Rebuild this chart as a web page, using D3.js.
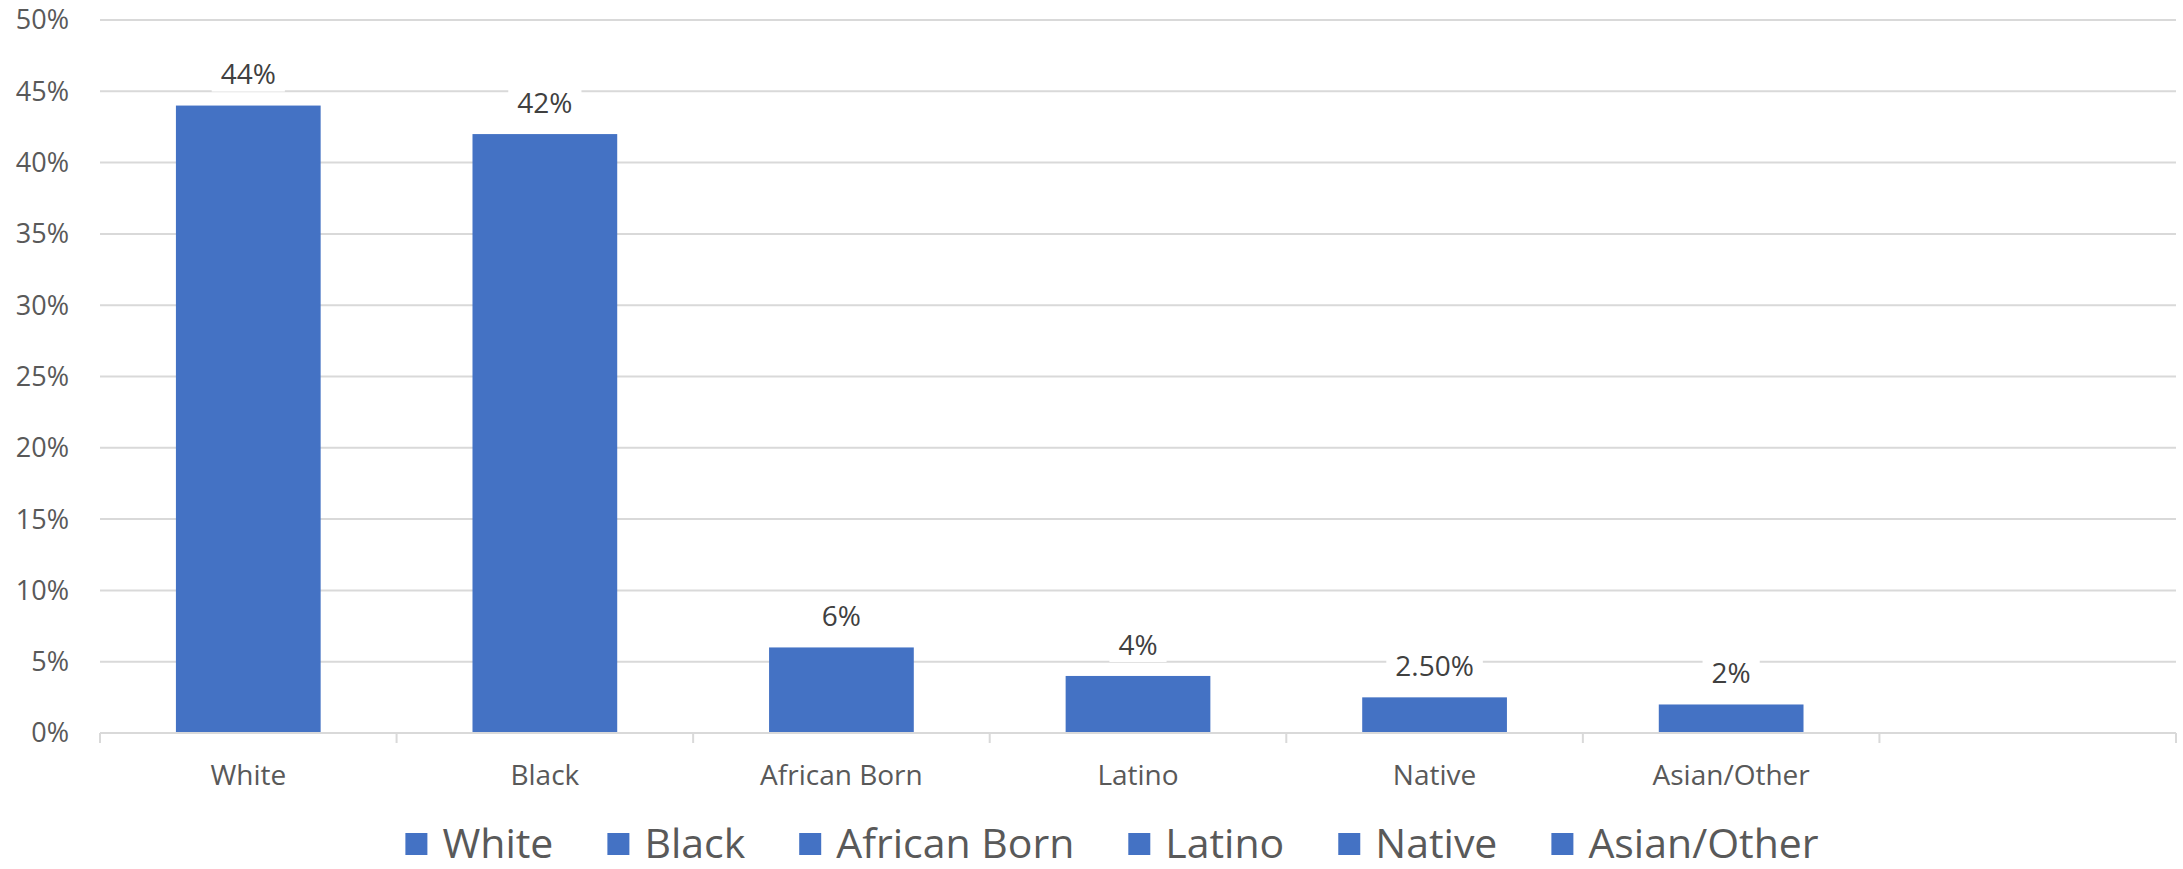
<!DOCTYPE html>
<html>
<head>
<meta charset="utf-8">
<script src="https://cdn.jsdelivr.net/npm/d3@7"></script>
<style>
  html, body { margin: 0; padding: 0; background: #fff; }
  #chart { width: 2183px; height: 869px; }
</style>
</head>
<body>
<div id="chart"></div>
<script>
// data
const categories = ["White", "Black", "African Born", "Latino", "Native", "Asian/Other", ""];
const values = [44, 42, 6, 4, 2.5, 2, null];
const valueLabels = ["44%", "42%", "6%", "4%", "2.50%", "2%", ""];
const yTicks = [0, 5, 10, 15, 20, 25, 30, 35, 40, 45, 50];
const legendItems = ["White", "Black", "African Born", "Latino", "Native", "Asian/Other"];

const width = 2183, height = 869;
const plot = { left: 100, right: 2176, top: 20, bottom: 733 };
const barColor = "#4472C4";
const font = "'Open Sans', 'Segoe UI', sans-serif";

const svg = d3.select("#chart").append("svg")
    .attr("width", width)
    .attr("height", height)
    .style("font-family", font);

const x = d3.scaleBand()
    .domain(categories)
    .range([plot.left, plot.right])
    .paddingInner(0.512)
    .paddingOuter(0.256);

const step = (plot.right - plot.left) / categories.length;

const y = d3.scaleLinear()
    .domain([0, 50])
    .range([plot.bottom, plot.top]);

// gridlines
svg.append("g")
    .selectAll("line")
    .data(yTicks.filter(d => d > 0))
    .join("line")
    .attr("x1", plot.left)
    .attr("x2", plot.right)
    .attr("y1", d => y(d))
    .attr("y2", d => y(d))
    .attr("stroke", "#D9D9D9")
    .attr("stroke-width", 2);

// y axis labels
svg.append("g")
    .selectAll("text")
    .data(yTicks)
    .join("text")
    .attr("x", 69)
    .attr("y", d => y(d))
    .attr("dy", "0.35em")
    .attr("text-anchor", "end")
    .attr("fill", "#595959")
    .style("font-size", "27px")
    .text(d => d + "%");

// bars
svg.append("g")
    .selectAll("rect")
    .data(categories.map((c, i) => ({ c, v: values[i] })).filter(d => d.v != null))
    .join("rect")
    .attr("x", d => x(d.c))
    .attr("y", d => y(d.v))
    .attr("width", x.bandwidth())
    .attr("height", d => y(0) - y(d.v))
    .attr("fill", barColor);

// x axis line + tick marks at band boundaries
const xAxis = svg.append("g");
xAxis.append("line")
    .attr("x1", plot.left)
    .attr("x2", plot.right)
    .attr("y1", y(0))
    .attr("y2", y(0))
    .attr("stroke", "#D9D9D9")
    .attr("stroke-width", 2);
xAxis.selectAll("line.tick")
    .data(d3.range(categories.length + 1))
    .join("line")
    .attr("class", "tick")
    .attr("x1", i => plot.left + i * step)
    .attr("x2", i => plot.left + i * step)
    .attr("y1", y(0))
    .attr("y2", y(0) + 10)
    .attr("stroke", "#D9D9D9")
    .attr("stroke-width", 2);
xAxis.selectAll("text")
    .data(categories)
    .join("text")
    .attr("x", d => x(d) + x.bandwidth() / 2)
    .attr("y", 775)
    .attr("dy", "0.35em")
    .attr("text-anchor", "middle")
    .attr("fill", "#595959")
    .style("font-size", "28px")
    .text(d => d);

// data labels with white box
const labels = svg.append("g")
    .selectAll("g")
    .data(categories.map((c, i) => ({ c, v: values[i], t: valueLabels[i] })).filter(d => d.v != null))
    .join("g")
    .attr("transform", d => `translate(${x(d.c) + x.bandwidth() / 2}, ${y(d.v) - 31})`);

labels.append("text")
    .attr("text-anchor", "middle")
    .attr("dy", "0.35em")
    .attr("fill", "#404040")
    .style("font-size", "28px")
    .text(d => d.t)
    .each(function () {
        const bb = this.getBBox();
        d3.select(this.parentNode).insert("rect", "text")
            .attr("x", bb.x - 9)
            .attr("y", -17)
            .attr("width", bb.width + 18)
            .attr("height", 34)
            .attr("fill", "#fff");
    });

// legend
const legend = svg.append("g");
const legendFontSize = 41;
const sq = 22, sqGap = 15, itemGap = 54;
const items = legend.selectAll("g")
    .data(legendItems)
    .join("g");
items.append("rect")
    .attr("width", sq)
    .attr("height", sq)
    .attr("y", -sq / 2)
    .attr("fill", barColor);
items.append("text")
    .attr("x", sq + sqGap)
    .attr("dy", "0.35em")
    .attr("fill", "#595959")
    .style("font-size", legendFontSize + "px")
    .text(d => d);

let cursor = 0;
items.each(function () {
    const w = this.querySelector("text").getComputedTextLength();
    d3.select(this).attr("transform", `translate(${cursor}, 0)`);
    cursor += sq + sqGap + w + itemGap;
});
const legendWidth = cursor - itemGap;
legend.attr("transform", `translate(${1112 - legendWidth / 2}, 844)`);
</script>
</body>
</html>
